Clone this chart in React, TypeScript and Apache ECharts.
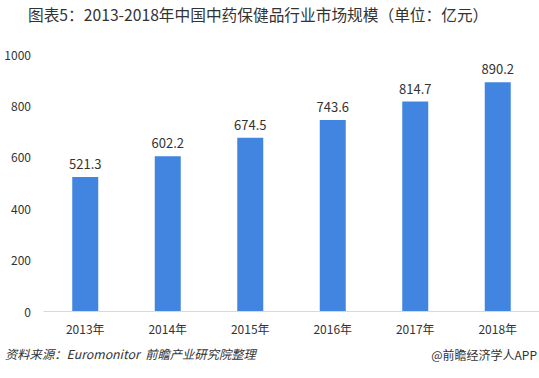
import React, { useEffect, useRef } from "react";
import * as echarts from "echarts";

const categories = ["2013年", "2014年", "2015年", "2016年", "2017年", "2018年"];
const values = [521.3, 602.2, 674.5, 743.6, 814.7, 890.2];
const titleText = "图表5：2013-2018年中国中药保健品行业市场规模（单位：亿元）";
const sourceText = "资料来源：Euromonitor  前瞻产业研究院整理";
const brandText = "@前瞻经济学人APP";

export default function App() {
  const ref = useRef<HTMLDivElement>(null);
  useEffect(() => {
    if (!ref.current) return;
    const chart = echarts.init(ref.current, null, { renderer: "svg" });
    const font = "'Microsoft YaHei', 'Noto Sans CJK SC', sans-serif";
    chart.setOption({
      animation: false,
      textStyle: { fontFamily: font },
      graphic: [
        {
          type: "text",
          left: 28,
          top: 7,
          style: { text: titleText, fontSize: 15.7, fill: "#333", fontFamily: font },
        },
        {
          type: "text",
          left: 5,
          top: 348,
          style: { text: sourceText, fontSize: 12.3, fontStyle: "italic", fill: "#333", fontFamily: font },
        },
        {
          type: "text",
          right: 2,
          top: 348,
          style: { text: brandText, fontSize: 12, fill: "#333", fontFamily: font },
        },
      ],
      grid: { left: 44, right: 0, top: 54, bottom: 67 },
      xAxis: {
        type: "category",
        data: categories,
        axisLine: { lineStyle: { color: "#d9d9d9", width: 1 } },
        axisTick: { show: false },
        axisLabel: { color: "#333", fontSize: 12, margin: 11 },
      },
      yAxis: {
        type: "value",
        min: 0,
        max: 1000,
        interval: 200,
        splitLine: { show: false },
        axisLine: { show: false },
        axisTick: { show: false },
        axisLabel: { color: "#333", fontSize: 12, margin: 13, formatter: (v: number) => String(v) },
      },
      series: [
        {
          type: "bar",
          data: values,
          barWidth: 26,
          itemStyle: { color: "#4285e0" },
          label: { show: true, position: "top", distance: 7, color: "#333", fontSize: 13 },
        },
      ],
    });
    return () => chart.dispose();
  }, []);
  return <div ref={ref} style={{ width: 539, height: 378, position: "absolute", left: 0, top: 0 }} />;
}
